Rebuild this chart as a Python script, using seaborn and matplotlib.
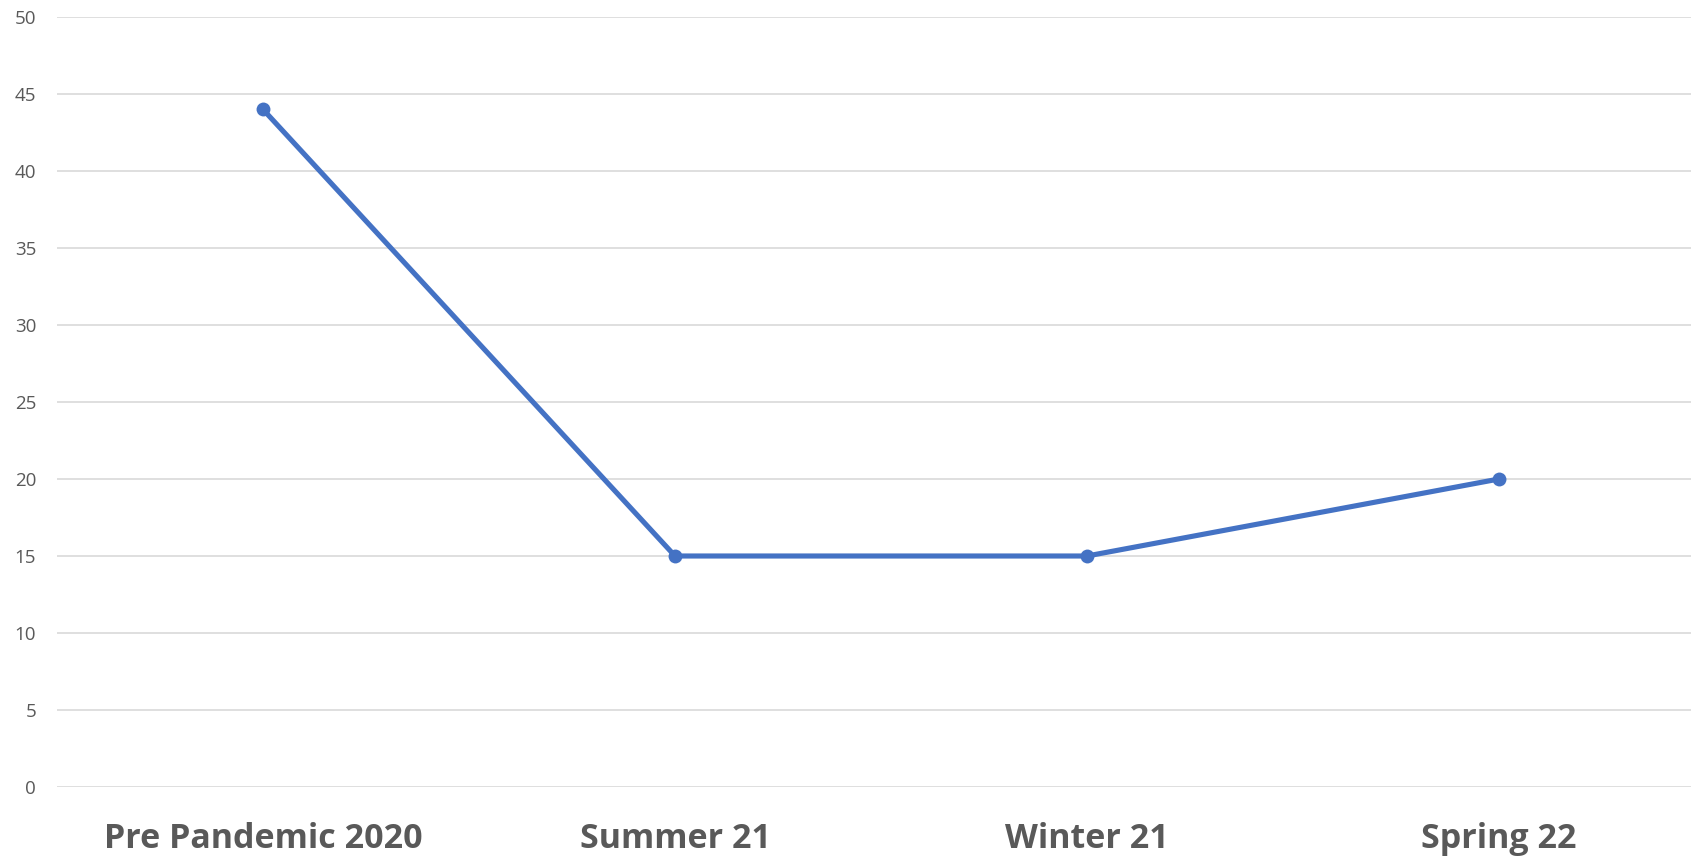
import pandas as pd
import matplotlib
matplotlib.use("Agg")
import matplotlib.pyplot as plt
import seaborn as sns

periods = ["Pre Pandemic 2020", "Summer 21", "Winter 21", "Spring 22"]
values = [44, 15, 15, 20]
y_ticks = list(range(0, 55, 5))

LINE_BLUE = "#4472C4"
GRID_GREY = "#D9D9D9"
TEXT_GREY = "#595959"

sns.set_theme(style="white")
plt.rcParams['font.family'] = ['Open Sans', 'DejaVu Sans']

df = pd.DataFrame({"period": periods, "value": values})

fig = plt.figure(figsize=(16.91, 8.58), dpi=100)
ax = fig.add_axes([57 / 1691, (858 - 787) / 858, (1691 - 57) / 1691, 770 / 858])

sns.lineplot(data=df, x="period", y="value", sort=False, ax=ax,
             color=LINE_BLUE, linewidth=3.7, marker="o", markersize=10,
             markeredgewidth=0)

ax.set_xlim(-0.5, 3.466)
ax.set_ylim(0, 50)
ax.set_yticks(y_ticks)
ax.yaxis.grid(True, color=GRID_GREY, linewidth=1.2)
ax.xaxis.grid(False)
ax.set_axisbelow(True)
for s in ax.spines.values():
    s.set_visible(False)

ax.set_xlabel("")
ax.set_ylabel("")
ax.tick_params(axis="y", length=0, pad=15, labelsize=13.5, labelcolor=TEXT_GREY)
ax.tick_params(axis="x", length=0, pad=25, labelsize=24.5, labelcolor=TEXT_GREY)
for lbl in ax.get_xticklabels():
    lbl.set_fontweight("bold")

fig.savefig("out.png", dpi=100)
